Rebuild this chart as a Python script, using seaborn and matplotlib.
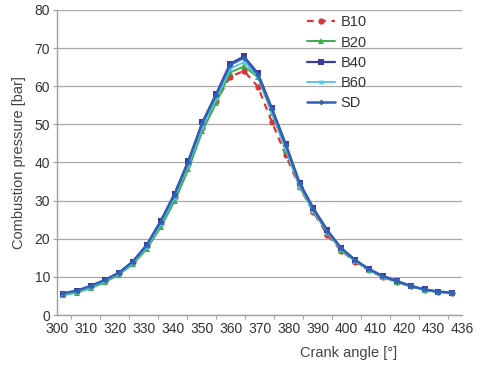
import matplotlib
matplotlib.use("Agg")
import matplotlib.pyplot as plt
import seaborn as sns
import pandas as pd
from matplotlib.ticker import MultipleLocator

crank_angle = [302.2, 307.0, 311.8, 316.6, 321.4, 326.2, 331.0, 335.8, 340.6, 345.4,
               350.2, 355.0, 359.8, 364.6, 369.4, 374.2, 379.0, 383.8, 388.6, 393.4,
               398.2, 403.0, 407.8, 412.6, 417.4, 422.2, 427.0, 431.8, 436.6]

b10 = [5.5, 6.2, 7.5, 9.0, 11.0, 13.8, 18.0, 24.0, 31.0, 39.5, 49.0, 56.0, 62.5, 64.0, 59.9,
       50.7, 42.0, 33.5, 27.0, 21.0, 16.9, 14.0, 11.7, 9.9, 8.7, 7.5, 6.6, 6.0, 5.8]
b20 = [5.2, 5.9, 7.1, 8.6, 10.6, 13.3, 17.3, 23.0, 29.8, 38.2, 48.2, 55.6, 63.6, 65.2, 62.4,
       53.0, 43.4, 33.6, 27.2, 21.6, 17.1, 14.1, 11.8, 10.0, 8.7, 7.5, 6.6, 6.0, 5.8]
b40 = [5.6, 6.3, 7.6, 9.1, 11.0, 14.0, 18.4, 24.6, 31.8, 40.5, 50.5, 58.0, 65.9, 67.8, 63.4,
       54.3, 44.9, 34.7, 28.0, 22.2, 17.5, 14.4, 12.0, 10.2, 8.9, 7.6, 6.7, 6.1, 5.9]
b60 = [5.4, 6.1, 7.4, 8.9, 10.8, 13.6, 17.8, 23.8, 30.8, 39.4, 49.2, 56.8, 64.6, 66.3, 62.6,
       53.2, 43.6, 33.8, 27.3, 21.7, 17.2, 14.2, 11.8, 10.0, 8.8, 7.5, 6.6, 6.0, 5.8]
sd = [5.7, 6.4, 7.7, 9.2, 11.1, 14.0, 18.3, 24.5, 31.5, 40.2, 50.3, 57.7, 65.6, 67.5, 63.0,
      54.0, 44.6, 34.5, 27.8, 22.1, 17.5, 14.4, 12.0, 10.2, 8.9, 7.6, 6.7, 6.1, 5.9]

series_names = ["B10", "B20", "B40", "B60", "SD"]
series_values = [b10, b20, b40, b60, sd]

x_tick_values = [300, 310, 320, 330, 340, 350, 360, 370, 380, 390, 400, 410, 420, 430, 440]
x_tick_labels = ["300", "310", "320", "330", "340", "350", "360", "370", "380", "390",
                 "400", "410", "420", "430", "436"]
y_ticks = [0, 10, 20, 30, 40, 50, 60, 70, 80]

styles = {
    "B10": dict(color="#d9363a", marker="o", ls=(0, (3, 2.5)), ms=4.5, lw=1.6, mew=0),
    "B20": dict(color="#3cae48", marker="^", ls="-", ms=4, lw=1.4, mew=0),
    "B40": dict(color="#3b3c9c", marker="s", ls="-", ms=4.5, lw=1.6, mew=0),
    "B60": dict(color="#5cc6ea", marker="x", ls="-", ms=3.5, lw=1.4, mew=1),
    "SD":  dict(color="#2f62b4", marker="D", ls="-", ms=3, lw=1.8, mew=0),
}

sns.set_theme(style="white")
plt.rcParams["font.family"] = ["Liberation Sans", "DejaVu Sans"]

fig = plt.figure(figsize=(4.83, 3.68), dpi=100)
ax = fig.add_axes([0.118, 0.144, 0.839, 0.829])

for name, vals in zip(series_names, series_values):
    st = styles[name]
    df = pd.DataFrame({"angle": crank_angle, "p": vals})
    sns.lineplot(data=df, x="angle", y="p", ax=ax, color=st["color"], marker=st["marker"],
                 linestyle=st["ls"], markersize=st["ms"], linewidth=st["lw"],
                 markeredgewidth=st["mew"], markeredgecolor=st["color"], label=name)

ax.set_xlim(300, 440)
ax.set_ylim(0, 80)
ax.set_xticks(x_tick_values)
ax.set_xticklabels(x_tick_labels)
ax.xaxis.set_minor_locator(MultipleLocator(5))
ax.set_yticks(y_ticks)
ax.yaxis.grid(True, color="#a8a8a8", lw=0.9)
ax.set_axisbelow(True)
for s in ["top", "right"]:
    ax.spines[s].set_visible(False)
for s in ["left", "bottom"]:
    ax.spines[s].set_color("#a0a0a0")
    ax.spines[s].set_linewidth(1.0)
ax.tick_params(axis="both", which="both", direction="out", color="#a0a0a0",
               labelsize=10, labelcolor="#333333")
ax.tick_params(axis="x", which="major", length=0, pad=5)
ax.tick_params(axis="x", which="minor", length=3, width=0.8, bottom=True)
ax.tick_params(axis="y", which="major", length=3, width=0.8, left=True, pad=2)

ax.set_xlabel("Crank angle [°]", fontsize=10.5, color="#444444")
ax.xaxis.set_label_coords(0.72, -0.1)
ax.set_ylabel("Combustion pressure [bar]", fontsize=10.5, color="#444444", labelpad=6)

leg = ax.legend(loc="upper left", bbox_to_anchor=(0.585, 1.025), frameon=False,
                handlelength=1.9, fontsize=10.5, labelspacing=0.42, handletextpad=0.4)
for t in leg.get_texts():
    t.set_color("#333333")

fig.savefig("out.png", dpi=100)
